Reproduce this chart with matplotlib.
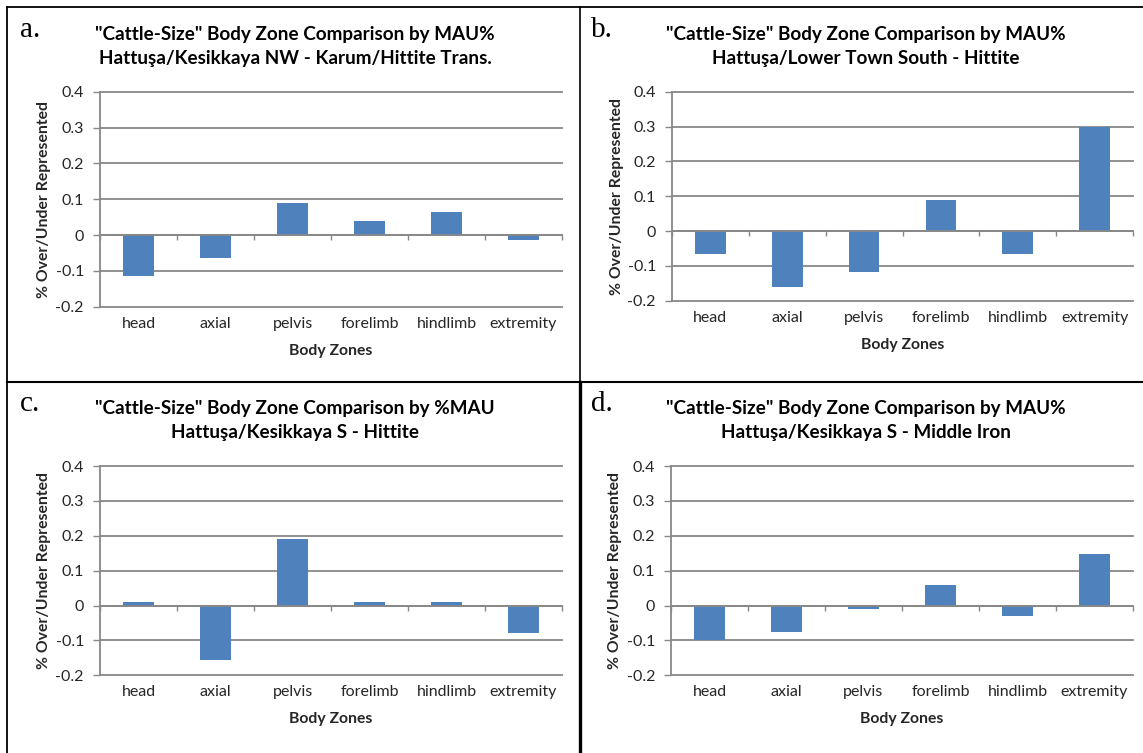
import matplotlib
matplotlib.use("Agg")
import matplotlib.pyplot as plt
from matplotlib.lines import Line2D

plt.rcParams['font.family'] = ['Lato', 'DejaVu Sans']

zones = ["head", "axial", "pelvis", "forelimb", "hindlimb", "extremity"]
ytick_vals = [-0.2, -0.1, 0.0, 0.1, 0.2, 0.3, 0.4]
ytick_labels = ["-0.2", "-0.1", "0", "0.1", "0.2", "0.3", "0.4"]

vals_a = [-0.115, -0.063, 0.089, 0.038, 0.063, -0.013]
vals_b = [-0.065, -0.162, -0.118, 0.09, -0.065, 0.30]
vals_c = [0.01, -0.155, 0.19, 0.01, 0.01, -0.08]
vals_d = [-0.10, -0.075, -0.01, 0.058, -0.031, 0.148]

letters = ["a.", "b.", "c.", "d."]
titles = [
    '"Cattle-Size" Body Zone Comparison by MAU%\nHattuşa/Kesikkaya NW - Karum/Hittite Trans.',
    '"Cattle-Size" Body Zone Comparison by MAU%\nHattuşa/Lower Town South - Hittite',
    '"Cattle-Size" Body Zone Comparison by %MAU\nHattuşa/Kesikkaya S - Hittite',
    '"Cattle-Size" Body Zone Comparison by MAU%\nHattuşa/Kesikkaya S - Middle Iron',
]
ylabel = "% Over/Under Represented"
xlabel = "Body Zones"

W, H = 1143, 753
fig = plt.figure(figsize=(W / 100, H / 100), dpi=100)
fig.patch.set_facecolor("white")

# layout in pixels: (left, top, right, bottom) of plot area, panel offset
panels = [
    dict(box=(100, 91.7, 562, 306.7), ox=0, oy=0, vals=vals_a),
    dict(box=(672, 91.7, 1133, 300.7), ox=571, oy=0, vals=vals_b),
    dict(box=(100, 466, 562, 675.3), ox=0, oy=374.5, vals=vals_c),
    dict(box=(671, 466, 1133, 675.3), ox=571, oy=374.5, vals=vals_d),
]

BAR = "#4F81BD"
GRID = "#888888"
TXT = "#262626"
PX = 0.72  # points per pixel at 100 dpi

for i, p in enumerate(panels):
    l, t, r, b = p["box"]
    ax = fig.add_axes([l / W, 1 - b / H, (r - l) / W, (b - t) / H])
    x = list(range(len(zones)))
    ax.bar(x, p["vals"], width=0.4, color=BAR, zorder=3)
    ax.set_xlim(-0.5, len(zones) - 0.5)
    ax.set_ylim(-0.2, 0.4)
    ax.set_yticks(ytick_vals, ytick_labels)
    ax.yaxis.grid(True, color=GRID, linewidth=1.3, zorder=0)
    for gl in ax.get_ygridlines():
        gl.set_clip_on(False)
    ax.tick_params(axis="y", direction="out", length=7 * PX, width=1, color=GRID,
                   labelsize=11.5, labelcolor=TXT, pad=9 * PX)
    for s in ("top", "right"):
        ax.spines[s].set_visible(False)
    ax.spines["left"].set_color(GRID)
    ax.spines["left"].set_linewidth(1.3)
    ax.spines["bottom"].set_position(("data", 0))
    ax.spines["bottom"].set_color(GRID)
    ax.spines["bottom"].set_linewidth(1.3)
    ax.spines["bottom"].set_zorder(4)
    bounds = [k - 0.5 for k in range(len(zones) + 1)]
    ax.set_xticks(bounds, [""] * len(bounds))
    ax.tick_params(axis="x", direction="out", length=5 * PX, width=1, color=GRID)
    sec = ax.secondary_xaxis("bottom")
    sec.set_xticks(x, zones)
    sec.tick_params(length=0, pad=10 * PX, labelsize=11.5, labelcolor=TXT)
    sec.spines["bottom"].set_visible(False)
    sec.set_xlabel(xlabel, fontsize=11.3, fontweight="bold", color=TXT, labelpad=13 * PX)
    ax.set_ylabel(ylabel, fontsize=11.3, fontweight="bold", color=TXT, labelpad=4 * PX)

    ox, oy = p["ox"], p["oy"]
    fig.text((20 + ox) / W, 1 - (37 + oy) / H, letters[i], fontsize=21,
             family=["Liberation Serif", "DejaVu Serif"], ha="left",
             va="baseline", color="black")
    fig.text((295 + ox) / W, 1 - (46.5 + oy) / H, titles[i], fontsize=13.6,
             fontweight="bold", ha="center", va="center", linespacing=1.5,
             color="black")

# panel borders
def fline(xs, ys, lw):
    fig.add_artist(Line2D([v / W for v in xs], [1 - v / H for v in ys],
                          color="black", linewidth=lw, transform=fig.transFigure))

fline([7, W], [7, 7], 1.3)
fline([7, 7], [7, H], 1.3)
fline([7, W], [381.5, 381.5], 1.5)
fline([580, 580], [7, 381.5], 1.2)
fline([580, 580], [381.5, H], 2.4)

fig.savefig("out.png", dpi=100, facecolor="white")
